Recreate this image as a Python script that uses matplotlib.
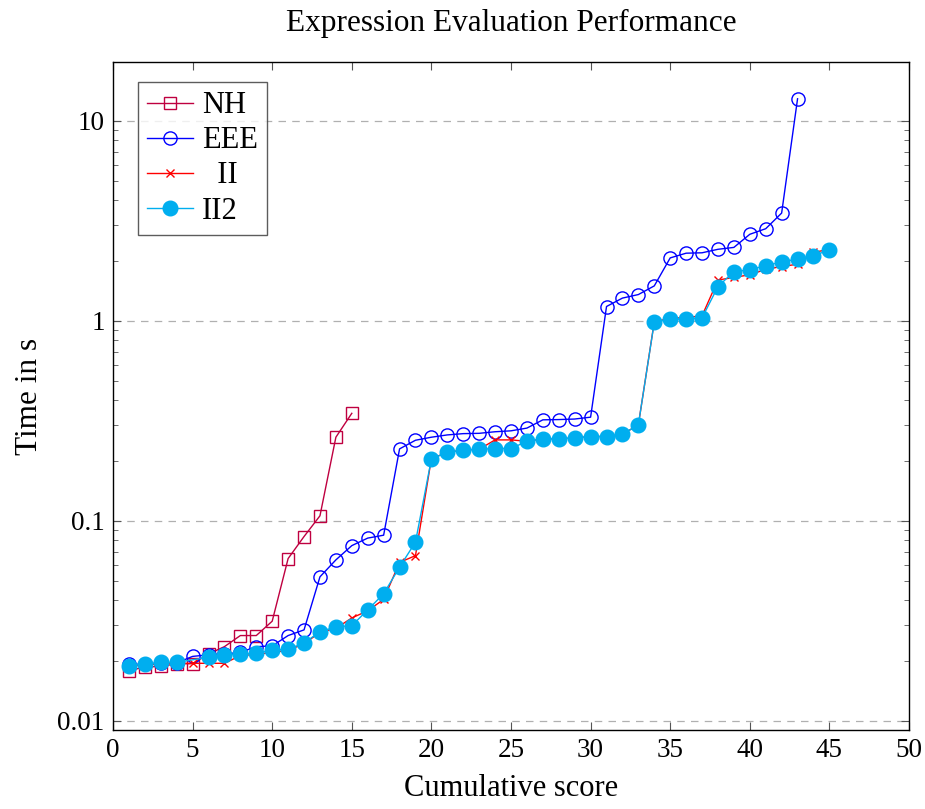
import numpy as np
import matplotlib
matplotlib.use("Agg")
import matplotlib.pyplot as plt
from matplotlib.ticker import FixedLocator, NullFormatter, LogLocator

plt.rcParams['font.family'] = ['Liberation Serif', 'DejaVu Serif']

# data
nh_x = list(range(1, 16))
nh_y = [0.0178, 0.0186, 0.0187, 0.0193, 0.0193, 0.0216, 0.0235, 0.0267, 0.0267,
        0.0315, 0.0648, 0.0835, 0.106, 0.262, 0.345]

eee_x = list(range(1, 44))
eee_y = [0.0192, 0.0192, 0.0195, 0.0195, 0.021, 0.0214, 0.0216, 0.022, 0.0235,
         0.0237, 0.0267, 0.0285, 0.0525, 0.0638, 0.0752, 0.082, 0.0848, 0.229,
         0.253, 0.262, 0.269, 0.273, 0.274, 0.279, 0.282, 0.291, 0.32, 0.321,
         0.323, 0.33, 1.18, 1.30, 1.354, 1.496, 2.065, 2.18, 2.19, 2.28, 2.33,
         2.71, 2.89, 3.46, 12.9]

ii_x = list(range(1, 46))
ii_y = [0.0188, 0.019, 0.0193, 0.0194, 0.0194, 0.0194, 0.0194, 0.0212, 0.0215,
        0.022, 0.0225, 0.0243, 0.0277, 0.029, 0.0327, 0.0355, 0.0405, 0.062,
        0.067, 0.205, 0.22, 0.226, 0.228, 0.254, 0.254, 0.25, 0.257, 0.257,
        0.26, 0.264, 0.264, 0.271, 0.302, 0.99, 1.03, 1.04, 1.06, 1.60, 1.65,
        1.70, 1.81, 1.87, 1.92, 2.20, 2.28]

ii2_x = [1, 2, 3, 4] + list(range(6, 46))
ii2_y = [0.0189, 0.0192, 0.0196, 0.0196, 0.0208, 0.0213, 0.0216, 0.0218, 0.0226,
         0.0228, 0.0245, 0.0279, 0.0295, 0.0299, 0.0359, 0.0432, 0.0587, 0.0783,
         0.204, 0.22, 0.226, 0.228, 0.23, 0.23, 0.25, 0.257, 0.257, 0.26, 0.264,
         0.264, 0.271, 0.302, 0.985, 1.02, 1.02, 1.035, 1.484, 1.764, 1.80, 1.89,
         1.97, 2.04, 2.12, 2.26]

fig = plt.figure(figsize=(9.25, 8.09), dpi=100)
ax = fig.add_axes([113/925, 1 - 730/809, (909-113)/925, (730-62)/809])

lw = 1.0
ax.plot(nh_x, nh_y, color='#BF0040', lw=lw, marker='s', ms=8.5, mfc='none',
        mec='#BF0040', mew=1.0, label='NH', zorder=3)
ax.plot(eee_x, eee_y, color='#0000FF', lw=lw, marker='o', ms=9.5, mfc='none',
        mec='#0000FF', mew=1.0, label='EEE', zorder=3)
ax.plot(ii_x, ii_y, color='#FF0000', lw=lw, marker='x', ms=6, mew=1.0,
        label='  II', zorder=3)
ax.plot(ii2_x, ii2_y, color='#00AEEF', lw=lw, marker='o', ms=10.5,
        mfc='#00AEEF', mec='#00AEEF', label='II2', zorder=4)

ax.set_yscale('log')
ax.set_xlim(0, 50)
ax.set_ylim(0.0090, 19.7)

ax.xaxis.set_major_locator(FixedLocator(list(range(0, 51, 5))))
ax.yaxis.set_major_locator(FixedLocator([0.01, 0.1, 1, 10]))
ax.set_yticklabels(['0.01', '0.1', '1', '10'])
ax.yaxis.set_minor_locator(LogLocator(base=10, subs=np.arange(2, 10)))
ax.yaxis.set_minor_formatter(NullFormatter())

ax.tick_params(axis='both', which='both', direction='in', top=True, right=True,
               color='#555555')
ax.tick_params(axis='both', which='major', length=6, width=0.8, labelsize=19.5, pad=6)
ax.tick_params(axis='y', which='minor', length=3.5, width=0.6)

ax.grid(True, which='major', axis='y', color='#b0b0b0', ls=(0, (6, 5)), lw=0.9)
for s in ax.spines.values():
    s.set_linewidth(1.0)

ax.set_title('Expression Evaluation Performance', fontsize=22.5, pad=22)
ax.set_xlabel('Cumulative score', fontsize=22, labelpad=8)
ax.set_ylabel('Time in s', fontsize=22.5, labelpad=10)

leg = ax.legend(loc='upper left', bbox_to_anchor=(0.031, 0.97), fontsize=22,
                frameon=True, fancybox=False, edgecolor='#333333',
                handlelength=1.5, handletextpad=0.3, labelspacing=0.2,
                borderpad=0.3, borderaxespad=0)
leg.get_frame().set_linewidth(1.0)

fig.savefig('out.png', dpi=100)
